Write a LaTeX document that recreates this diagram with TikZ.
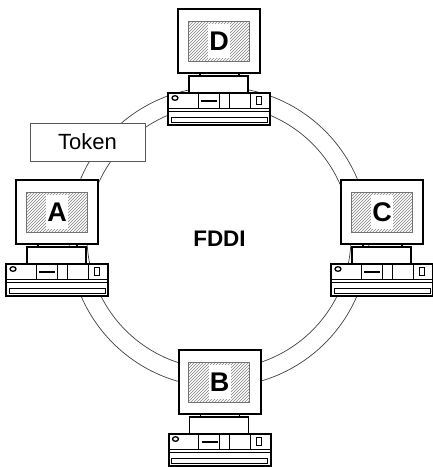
\documentclass[tikz,border=0pt]{standalone}
\usepackage{fontspec}
\setmainfont{Liberation Sans}
\usetikzlibrary{patterns}

\tikzset{
  ringline/.style={draw=black!75, line width=0.7pt},
  casing/.style={draw=black, line width=2pt, fill=white},
  standbox/.style={draw=black, line width=1.5pt, fill=white},
  detail/.style={draw=black, line width=1pt},
  screenhatch/.style={draw=black!55, line width=0.8pt, pattern=north east lines, pattern color=black!50},
  letterbox/.style={fill=white, inner sep=0pt, minimum width=22pt, minimum height=34pt,
    font=\bfseries\fontsize{27}{31}\selectfont},
  tokenbox/.style={draw=black!65, line width=0.8pt, fill=white, minimum width=115pt,
    minimum height=38pt, inner sep=0pt, font=\fontsize{22}{26}\selectfont},
  ringlabel/.style={font=\bfseries\fontsize{22.5}{26}\selectfont, inner sep=0pt},
  % a desktop workstation; origin = top centre of the monitor
  pics/workstation/.style={code={
    % monitor
    \draw[casing] (-41,0) rectangle (41,64);
    \fill[white] (-31,12) rectangle (30,52);
    \draw[screenhatch] (-31,12) rectangle (30,52);
    \node[letterbox] (-letter) at (0,32) {#1};
    % neck pegs and stand
    \draw[standbox] (-19,64) -- (-19,67) (20,64) -- (20,67);
    \draw[standbox] (-30,67) rectangle (29,84);
    % system unit
    \draw[casing] (-51,84) rectangle (51,116);
    \draw[detail] (-51,99) -- (51,99) (-51,102) -- (51,102);
    \draw[detail] (-21,84) -- (-21,99) (0,84) -- (0,99) (10,84) -- (10,99) (31,84) -- (31,99);
    \draw[detail] (-48,108) rectangle (48,113);
    \draw[black, line width=1.6pt] (-18,92) -- (-2,92);
    \draw[black, line width=1.3pt] (-44,89) ellipse (3 and 2.3);
    \draw[detail] (37,87) rectangle (42,95);
  }}
}

\begin{document}
\begin{tikzpicture}[x=1pt, y=-1pt]
  \useasboundingbox (0,0) rectangle (433,467);
  \fill[white] (0,0) rectangle (433,467);

  % the dual ring
  \coordinate (ringcentre) at (219,237);
  \draw[ringline] (ringcentre) circle (150);
  \draw[ringline] (ringcentre) circle (132);

  % stations on the ring
  \pic (D) at (219,9)   {workstation=D};
  \pic (A) at (57,180)  {workstation=A};
  \pic (C) at (382,180) {workstation=C};
  \pic (B) at (219.5,350) {workstation=B};

  \node[tokenbox] (token) at (87.5,142) {Token};
  \node[ringlabel] (fddi) at (219.5,239) {FDDI};
\end{tikzpicture}
\end{document}
